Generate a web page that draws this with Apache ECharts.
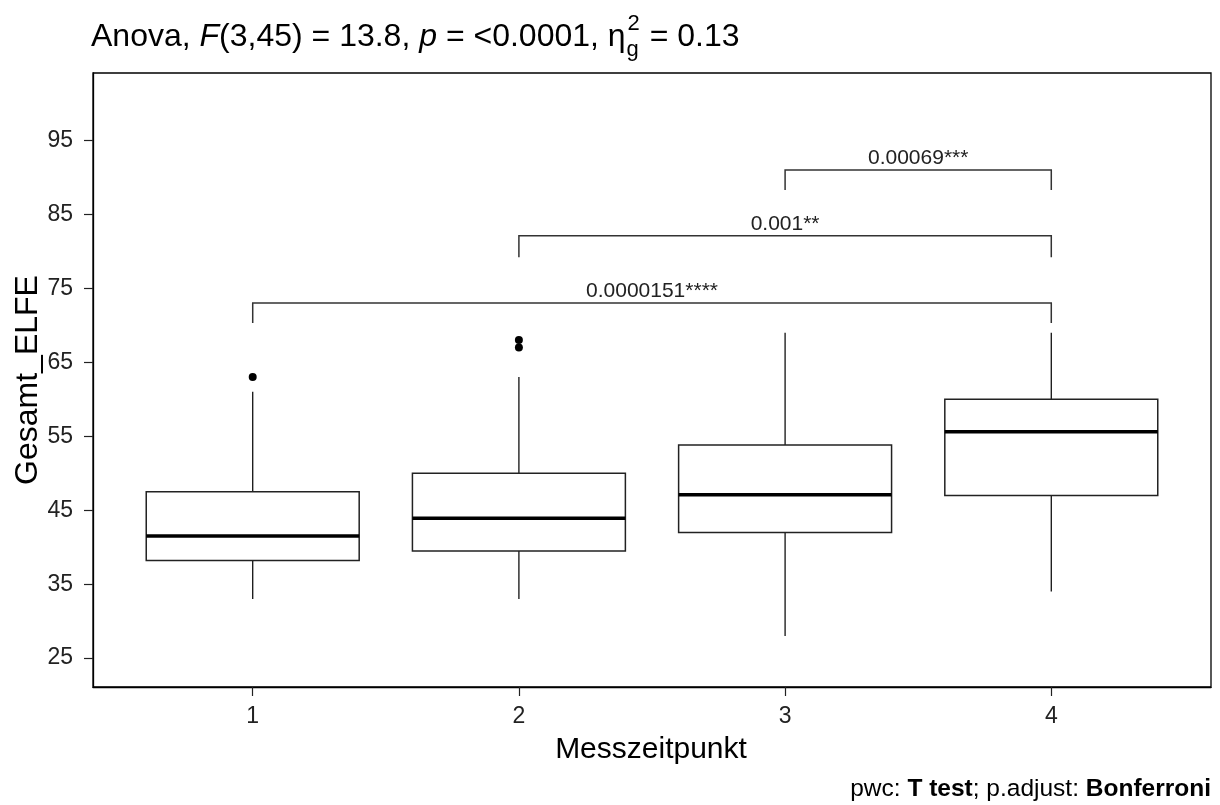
<!DOCTYPE html>
<html><head><meta charset="utf-8">
<script src="https://cdn.jsdelivr.net/npm/echarts@6/dist/echarts.min.js"></script>
<style>html,body{margin:0;padding:0;background:#fff}#c{width:1220px;height:805px}</style>
</head><body><div id="c"></div>
<script>
// ---- data ----
const CATEGORIES = [1, 2, 3, 4];
const WHISKER_LOW = [33, 33, 28, 34];
const Q1 = [38.2, 39.5, 42.0, 47.0];
const MEDIAN = [41.5, 43.9, 47.1, 55.6];
const Q3 = [47.5, 50.0, 53.8, 60.0];
const WHISKER_HIGH = [61, 63, 69, 69];
const OUTLIERS = [[1, 63], [2, 67], [2, 68]];
const Y_TICKS = [25, 35, 45, 55, 65, 75, 85, 95];
const COMPARISONS = [[1, 4], [2, 4], [3, 4]];
const BRACKET_Y = [73.0, 82.1, 91.0];
const BRACKET_TICK_Y = [70.3, 79.2, 88.3];
const P_LABELS = ['0.0000151****', '0.001**', '0.00069***'];

// ---- style ----
const FONT = "'Liberation Sans', Arial, sans-serif";
const BOX_WIDTH = 0.8;

const boxData = CATEGORIES.map((c, i) => [c, WHISKER_LOW[i], Q1[i], MEDIAN[i], Q3[i], WHISKER_HIGH[i]]);
const bracketData = COMPARISONS.map((c, i) => [c[0], c[1], BRACKET_Y[i], BRACKET_TICK_Y[i]]);

function renderBox(params, api) {
  const x = api.value(0), lo = api.value(1), q1 = api.value(2), md = api.value(3), q3 = api.value(4), hi = api.value(5);
  const h = BOX_WIDTH / 2;
  const tl = api.coord([x - h, q3]), br = api.coord([x + h, q1]);
  const ml = api.coord([x - h, md]), mr = api.coord([x + h, md]);
  const phi = api.coord([x, hi]), plo = api.coord([x, lo]);
  const ws = { stroke: '#111', lineWidth: 1.3 };
  return { type: 'group', children: [
    { type: 'line', shape: { x1: phi[0], y1: phi[1], x2: phi[0], y2: tl[1] }, style: ws },
    { type: 'line', shape: { x1: plo[0], y1: br[1], x2: plo[0], y2: plo[1] }, style: ws },
    { type: 'rect', shape: { x: tl[0], y: tl[1], width: br[0] - tl[0], height: br[1] - tl[1] }, style: { fill: '#fff', stroke: '#222', lineWidth: 1.5 } },
    { type: 'line', shape: { x1: ml[0], y1: ml[1], x2: mr[0], y2: mr[1] }, style: { stroke: '#000', lineWidth: 3.5 } }
  ]};
}

function renderBracket(params, api) {
  const x1 = api.value(0), x2 = api.value(1), yb = api.value(2), yt = api.value(3);
  const a = api.coord([x1, yt]), b = api.coord([x1, yb]), c = api.coord([x2, yb]), d = api.coord([x2, yt]);
  return { type: 'group', children: [
    { type: 'polyline', shape: { points: [a, b, c, d] }, style: { stroke: '#333', lineWidth: 1.5, fill: null } },
    { type: 'text', x: (b[0] + c[0]) / 2, y: b[1] - 1, style: { text: P_LABELS[params.dataIndex], font: '21px ' + FONT, fill: '#222', align: 'center', verticalAlign: 'bottom' } }
  ]};
}

// ---- title pieces measured ----
const mctx = document.createElement('canvas').getContext('2d');
function tw(t, font) { mctx.font = font; return mctx.measureText(t).width; }
const TS = 32;
const fN = TS + 'px ' + FONT, fI = 'italic ' + TS + 'px ' + FONT, fS = '22px ' + FONT;
const titleParts = [['Anova, ', fN], ['F', fI], ['(3,45) = 13.8, ', fN], ['p', fI], [' = <0.0001, \u03B7', fN]];
const graphics = [];
let tx = 91;
const TY = 37;
titleParts.forEach(p => {
  graphics.push({ type: 'text', x: tx, y: TY, style: { text: p[0], font: p[1], fill: '#000', align: 'left', verticalAlign: 'middle' } });
  tx += tw(p[0], p[1]);
});
graphics.push({ type: 'text', x: tx + 1, y: 50, style: { text: 'g', font: fS, fill: '#000', align: 'left', verticalAlign: 'middle' } });
graphics.push({ type: 'text', x: tx + 2, y: 24, style: { text: '2', font: fS, fill: '#000', align: 'left', verticalAlign: 'middle' } });
tx += Math.max(tw('g', fS), tw('2', fS)) + 3;
graphics.push({ type: 'text', x: tx, y: TY, style: { text: ' = 0.13', font: fN, fill: '#000', align: 'left', verticalAlign: 'middle' } });

// axis titles
graphics.push({ type: 'text', x: 651, y: 750, style: { text: 'Messzeitpunkt', font: '30px ' + FONT, fill: '#000', align: 'center', verticalAlign: 'middle' } });
graphics.push({ type: 'text', x: 28, y: 380, rotation: Math.PI / 2, style: { text: 'Gesamt_ELFE', font: '32px ' + FONT, fill: '#000', align: 'center', verticalAlign: 'middle' } });
// caption
graphics.push({ type: 'text', x: 1211, y: 789, style: {
  text: '{n|pwc: }{b|T test}{n|; p.adjust: }{b|Bonferroni}', align: 'right', verticalAlign: 'middle',
  rich: { n: { font: '24.5px ' + FONT, fill: '#000' }, b: { font: 'bold 24.5px ' + FONT, fill: '#000' } } } });

const chart = echarts.init(document.getElementById('c'), null, { renderer: 'canvas' });
chart.setOption({
  animation: false,
  backgroundColor: '#fff',
  grid: { left: 93, right: 9, top: 73, bottom: 118, show: true, borderColor: '#000', borderWidth: 1.3, backgroundColor: 'transparent' },
  xAxis: {
    type: 'value', min: 0.4, max: 4.6,
    axisLine: { show: true, onZero: false, lineStyle: { color: '#000', width: 1.3 } },
    axisTick: { show: true, length: 9, customValues: CATEGORIES, lineStyle: { color: '#222', width: 1.2 } },
    axisLabel: { show: true, customValues: CATEGORIES, margin: 18, fontSize: 23, fontFamily: FONT, color: '#222' },
    splitLine: { show: false }
  },
  yAxis: {
    type: 'value', min: 21.1, max: 104.1,
    axisLine: { show: true, onZero: false, lineStyle: { color: '#000', width: 1.3 } },
    axisTick: { show: true, length: 9, customValues: Y_TICKS, lineStyle: { color: '#222', width: 1.2 } },
    axisLabel: { show: true, customValues: Y_TICKS, margin: 20, fontSize: 23, fontFamily: FONT, color: '#222' },
    splitLine: { show: false }
  },
  graphic: graphics,
  series: [
    { type: 'custom', renderItem: renderBox, data: boxData, encode: { x: 0, y: [1, 2, 3, 4, 5] }, z: 2 },
    { type: 'scatter', data: OUTLIERS, symbol: 'circle', symbolSize: 8, itemStyle: { color: '#000', opacity: 1 }, z: 3 },
    { type: 'custom', renderItem: renderBracket, data: bracketData, encode: { x: [0, 1], y: [2, 3] }, z: 2 }
  ]
});
</script></body></html>
